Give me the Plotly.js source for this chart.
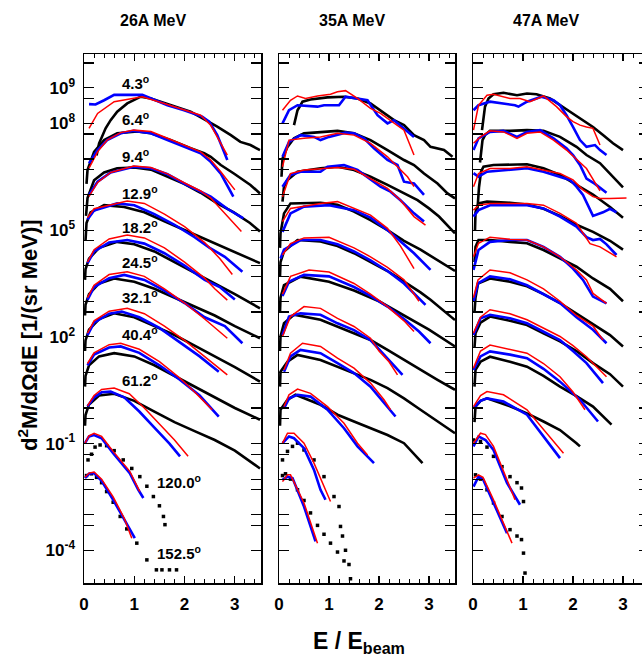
<!DOCTYPE html>
<html><head><meta charset="utf-8">
<script src="https://cdn.plot.ly/plotly-3.0.1.min.js"></script>
<style>html,body{margin:0;padding:0;overflow:hidden;background:#fff}</style>
</head><body><div id="chart"></div>
<script>
// ---------- data (log10 of d2M/dOmega dE) ----------
const panelTitles = ['26A MeV', '35A MeV', '47A MeV'];
const angleLabels = ['4.3', '6.4', '9.4', '12.9', '18.2', '24.5', '32.1', '40.4', '61.2', '120.0', '152.5'];
const xTickVals = [0, 1, 2, 3];
const yTickExp = [9, 8, 5, 2, -1, -4];

// 26A MeV
const x26Black = [
 [0.25,0.30,0.36,0.43,0.53,0.66,0.86,1.13,1.33,1.72,2.12,2.42,2.65,2.92,3.11,3.31,3.5],
 [0.05,0.07,0.20,0.40,0.66,1.06,1.33,1.72,2.12,2.39,2.52,2.72,2.98,3.31,3.5],
 [0.04,0.07,0.2,0.4,0.66,1.0,1.33,1.66,1.99,2.32,2.65,2.98,3.3,3.5],
 [0.03,0.05,0.13,0.4,0.8,1.2,1.6,2.0,2.4,2.8,3.2,3.5],
 [0.02,0.03,0.1,0.3,0.66,1.0,1.4,1.8,2.2,2.6,3.0,3.5],
 [0.02,0.03,0.1,0.3,0.6,1.0,1.4,1.8,2.2,2.6,3.0,3.5],
 [0.02,0.03,0.1,0.3,0.6,1.0,1.4,1.8,2.2,2.6,3.0,3.5],
 [0.02,0.03,0.1,0.3,0.6,1.0,1.4,1.8,2.2,2.6,3.0,3.5],
 [0.02,0.03,0.1,0.3,0.6,1.0,1.4,1.8,2.2,2.6,3.0,3.5],
 [0.08,0.15,0.22,0.32,0.45,0.6,0.78,0.95,1.11,1.25,1.38,1.5,1.58,1.61],
 [0.05,0.15,0.25,0.35,0.45,0.58,0.72,0.85,1.05,1.25,1.44,1.55,1.7,1.84]];
const y26Black = [
 [7.1,7.44,7.63,7.86,8.09,8.33,8.56,8.75,8.70,8.51,8.33,8.09,7.91,7.67,7.48,7.39,7.25],
 [6.3,6.69,7.2,7.53,7.72,7.77,7.72,7.53,7.30,7.16,7.06,6.83,6.59,6.27,6.03],
 [5.4,5.9,6.4,6.62,6.74,6.76,6.7,6.5,6.3,6.05,5.75,5.5,5.2,4.96],
 [4.7,5.2,5.5,5.70,5.65,5.5,5.25,5.0,4.75,4.5,4.25,4.07],
 [3.6,3.9,4.2,4.5,4.67,4.6,4.4,4.1,3.8,3.5,3.2,2.8],
 [2.6,2.9,3.2,3.5,3.64,3.55,3.35,3.1,2.85,2.6,2.3,1.96],
 [1.6,1.9,2.2,2.5,2.66,2.55,2.3,2.05,1.75,1.45,1.15,0.74],
 [0.6,0.9,1.2,1.45,1.54,1.45,1.2,0.9,0.6,0.3,0.0,-0.33],
 [-0.5,-0.2,0.1,0.35,0.40,0.2,-0.1,-0.4,-0.65,-0.9,-1.2,-1.7],
 [-1.46,-1.3,-1.1,-1.04,-1.06,-1.2,-1.46,-1.7,-1.93,-2.2,-2.49,-2.75,-3.05,-3.28],
 [-1.9,-1.85,-1.95,-2.1,-2.35,-2.65,-3.05,-3.4,-3.8,-4.27,-4.55,-4.55,-4.55,-4.55]];
const x26Blue = [
 [0.10,0.23,0.40,0.60,1.16,1.33,1.66,1.99,2.35,2.49,2.65,2.85],
 [0.10,0.27,0.46,0.73,0.99,1.33,1.66,1.99,2.32,2.52,2.72,2.97],
 [0.10,0.27,0.53,0.99,1.33,1.66,1.99,2.32,2.52,2.85,3.17],
 [0.07,0.2,0.66,1.0,1.4,1.8,2.2,2.5,2.8,3.15],
 [0.07,0.2,0.5,0.86,1.2,1.6,2.0,2.4,2.7,3.0],
 [0.07,0.2,0.5,0.8,1.2,1.6,2.0,2.4,2.8,3.15],
 [0.07,0.2,0.5,0.75,1.1,1.5,1.9,2.3,2.68],
 [0.07,0.2,0.5,0.73,1.1,1.5,1.9,2.3,2.68],
 [0.07,0.2,0.35,0.53,0.8,1.1,1.4,1.7,1.91],
 [0.02,0.1,0.2,0.35,0.58,0.91,1.08,1.18],
 [0.02,0.1,0.2,0.35,0.58,0.85,1.01]];
const y26Blue = [
 [8.54,8.53,8.65,8.80,8.80,8.70,8.51,8.37,8.19,8.05,7.67,6.97],
 [6.88,7.25,7.53,7.72,7.79,7.72,7.53,7.34,7.16,6.92,6.59,5.94],
 [5.99,6.36,6.62,6.78,6.74,6.57,6.31,6.08,5.94,5.6,5.33],
 [5.3,5.55,5.75,5.7,5.45,5.15,4.8,4.5,4.25,3.83],
 [4.07,4.4,4.65,4.72,4.62,4.35,4.0,3.6,3.4,3.05],
 [3.04,3.4,3.65,3.74,3.6,3.3,2.95,2.55,2.3,1.82],
 [2.05,2.4,2.65,2.71,2.55,2.25,1.85,1.45,1.02],
 [1.2,1.5,1.7,1.73,1.55,1.2,0.8,0.35,-0.24],
 [0.04,0.3,0.44,0.46,0.3,-0.1,-0.55,-1.0,-1.36],
 [-0.99,-0.8,-0.76,-0.85,-1.27,-1.83,-2.3,-2.53],
 [-1.97,-1.85,-1.83,-2.05,-2.58,-3.24,-3.66]];
const x26Red = [
 [0.10,0.27,0.60,0.99,1.16,1.66,2.32,2.52,2.85],
 [0.10,0.27,0.46,0.73,0.99,1.33,1.66,1.99,2.32,2.52,2.72,3.0],
 [0.10,0.27,0.53,0.99,1.33,1.66,1.99,2.32,2.52,2.85,3.13],
 [0.07,0.2,0.86,1.2,1.6,2.0,2.4,2.7,2.95],
 [0.07,0.2,0.5,0.86,1.2,1.6,2.0,2.4,2.6,2.85],
 [0.07,0.2,0.5,0.86,1.2,1.6,2.0,2.4,2.85],
 [0.07,0.2,0.5,0.86,1.2,1.6,2.0,2.4,2.85],
 [0.07,0.2,0.5,0.73,1.1,1.5,1.9,2.2,2.55],
 [0.07,0.2,0.35,0.6,0.9,1.2,1.5,1.8,2.07],
 [0.02,0.1,0.2,0.35,0.58,0.91,1.11],
 [0.02,0.1,0.2,0.35,0.58,0.8,0.95]];
const y26Red = [
 [7.86,8.28,8.61,8.72,8.75,8.53,8.23,7.95,7.11],
 [6.74,7.2,7.53,7.74,7.81,7.77,7.58,7.39,7.2,6.97,6.64,6.13],
 [5.95,6.34,6.62,6.80,6.76,6.58,6.33,6.1,5.9,5.4,4.96],
 [5.35,5.6,5.82,5.75,5.45,5.1,4.65,4.2,3.75],
 [4.1,4.45,4.75,4.86,4.78,4.5,4.1,3.65,3.35,3.03],
 [3.1,3.45,3.75,3.83,3.7,3.35,2.95,2.5,1.96],
 [2.1,2.45,2.72,2.8,2.65,2.3,1.9,1.45,0.93],
 [1.25,1.55,1.78,1.82,1.65,1.3,0.85,0.45,-0.05],
 [0.06,0.35,0.52,0.56,0.4,0.0,-0.45,-0.9,-1.36],
 [-0.99,-0.78,-0.71,-0.8,-1.22,-1.78,-2.35],
 [-1.95,-1.83,-1.8,-2.0,-2.5,-3.1,-3.66]];

// 35A MeV
const x35Black = [
 [0.30,0.37,0.43,0.47,0.63,0.97,1.3,1.57,1.83,2.03,2.3,2.5,2.7,2.9,3.03,3.3,3.47],
 [0.05,0.07,0.17,0.3,0.5,0.83,1.17,1.5,1.83,2.17,2.5,2.7,2.9,3.17,3.37,3.52],
 [0.07,0.1,0.17,0.37,0.83,1.17,1.5,1.83,2.17,2.5,2.77,3.0,3.2,3.52],
 [0.02,0.03,0.1,0.23,0.83,1.17,1.5,1.83,2.17,2.5,2.83,3.17,3.52],
 [0.02,0.03,0.1,0.37,0.83,1.17,1.5,1.83,2.17,2.5,2.83,3.03,3.52],
 [0.02,0.03,0.1,0.43,1.0,1.5,2.0,2.5,3.0,3.52],
 [0.02,0.03,0.1,0.3,0.83,1.17,1.5,1.83,2.17,2.5,2.83,3.17,3.52],
 [0.02,0.03,0.17,0.37,0.83,1.17,1.5,1.83,2.17,2.5,2.83,3.17,3.52],
 [0.02,0.03,0.17,0.33,0.83,1.17,1.5,1.83,2.17,2.5,2.87],
 [0.07,0.17,0.27,0.37,0.5,0.7,0.9,1.1,1.2,1.23,1.27,1.33,1.4],
 [0.07,0.13,0.23,0.37,0.5,0.63,0.77,0.9,1.03,1.17,1.3,1.43]];
const y35Black = [
 [7.95,8.37,8.51,8.61,8.67,8.73,8.75,8.70,8.56,8.37,8.09,7.95,7.67,7.53,7.34,7.25,7.06],
 [6.5,7.01,7.34,7.58,7.72,7.76,7.79,7.72,7.53,7.25,6.97,6.83,6.59,6.31,6.03,5.89],
 [5.8,6.22,6.41,6.64,6.74,6.78,6.69,6.5,6.27,6.03,5.84,5.61,5.38,4.91],
 [4.5,4.91,5.47,5.75,5.77,5.71,5.52,5.28,5.0,4.7,4.45,4.15,3.85],
 [3.7,4.1,4.4,4.72,4.68,4.55,4.35,4.1,3.85,3.55,3.25,3.04,2.47],
 [2.7,3.1,3.45,3.69,3.55,3.3,3.0,2.6,2.2,1.73],
 [1.6,2.01,2.38,2.62,2.48,2.29,2.10,1.91,1.63,1.35,1.07,0.79,0.51],
 [0.6,1.02,1.3,1.49,1.35,1.16,0.98,0.79,0.56,0.27,-0.05,-0.38,-0.71],
 [-0.5,-0.05,0.23,0.37,0.09,-0.19,-0.38,-0.57,-0.76,-0.99,-1.55],
 [-1.46,-1.22,-1.08,-0.99,-1.18,-1.46,-1.93,-2.49,-2.77,-3.33,-3.6,-4.0,-4.4],
 [-1.9,-1.85,-2.0,-2.3,-2.6,-2.95,-3.3,-3.55,-3.8,-4.05,-4.3,-4.8]];
const x35Blue = [
 [0.07,0.2,0.37,0.77,0.9,1.2,1.33,1.6,1.77,1.97,2.17,2.3,2.5,2.7],
 [0.07,0.2,0.43,0.7,0.83,1.0,1.33,1.5,1.7,1.9,2.17,2.37,2.5,2.7,2.9],
 [0.07,0.23,0.43,0.83,0.97,1.3,1.57,1.83,2.03,2.23,2.43,2.7,2.9],
 [0.07,0.23,0.5,1.0,1.5,1.83,2.17,2.5,2.7,3.03],
 [0.03,0.1,0.43,0.83,1.17,1.5,1.83,2.17,2.5,2.93],
 [0.07,0.2,0.5,1.0,1.5,1.83,2.17,2.5,2.8,3.03],
 [0.07,0.2,0.43,0.83,1.17,1.5,1.83,2.17,2.47],
 [0.1,0.23,0.43,0.83,1.17,1.5,1.83,2.1,2.33],
 [0.1,0.2,0.37,0.63,0.97,1.3,1.57,1.9],
 [0.07,0.2,0.3,0.5,0.7,0.83,0.93],
 [0.07,0.17,0.27,0.5,0.73]];
const y35Blue = [
 [8.0,8.37,8.51,8.47,8.51,8.51,8.75,8.70,8.65,8.23,8.0,8.09,7.86,7.62],
 [7.06,7.48,7.67,7.62,7.53,7.62,7.74,7.72,7.58,7.30,6.97,6.83,6.36,6.31,5.99],
 [6.22,6.55,6.64,6.64,6.78,6.83,6.69,6.41,6.22,6.08,5.84,5.47,5.24],
 [4.95,5.47,5.66,5.70,5.56,5.35,5.0,4.6,4.35,3.88],
 [4.2,4.45,4.72,4.72,4.6,4.4,4.15,3.85,3.5,2.9],
 [3.15,3.55,3.74,3.7,3.4,3.15,2.85,2.5,2.15,1.82],
 [2.05,2.57,2.66,2.62,2.38,2.19,1.91,1.4,0.93],
 [1.02,1.45,1.63,1.54,1.26,0.98,0.6,0.13,-0.24],
 [-0.01,0.27,0.37,0.32,-0.05,-0.57,-1.08,-1.55],
 [-0.99,-0.8,-0.85,-1.13,-1.74,-2.3,-2.58],
 [-2.02,-1.93,-1.97,-2.77,-3.75]];
const x35Red = [
 [0.07,0.23,0.37,0.53,0.77,1.03,1.17,1.33,1.57,1.83,2.03,2.23,2.5,2.7],
 [0.07,0.2,0.5,0.83,1.17,1.5,1.83,2.17,2.37,2.57,2.7],
 [0.07,0.23,0.5,0.83,1.17,1.5,1.83,2.17,2.43,2.7,2.93],
 [0.07,0.23,0.83,1.17,1.83,2.17,2.43,2.7],
 [0.07,0.23,0.5,1.0,1.5,1.83,2.17,2.5,2.8],
 [0.07,0.23,0.6,1.0,1.5,1.83,2.17,2.5,2.7],
 [0.07,0.23,0.5,0.83,1.17,1.5,1.83,2.0,2.2,2.37],
 [0.1,0.23,0.47,0.83,1.17,1.5,1.83,2.1,2.23],
 [0.1,0.2,0.37,0.63,0.97,1.3,1.57,1.77],
 [0.07,0.17,0.3,0.5,0.7,0.9,1.03],
 [0.07,0.17,0.23,0.5,0.77]];
const y35Red = [
 [8.37,8.65,8.77,8.70,8.77,8.82,8.89,8.92,8.70,8.42,8.28,8.09,7.81,7.11],
 [6.78,7.53,7.58,7.62,7.72,7.67,7.44,7.06,6.78,6.5,6.22],
 [5.94,6.59,6.69,6.73,6.76,6.71,6.45,6.17,5.84,5.38,5.14],
 [5.24,5.61,5.75,5.80,5.42,5.05,4.55,3.92],
 [4.3,4.62,4.78,4.80,4.5,4.25,3.95,3.6,3.0],
 [3.2,3.7,3.88,3.82,3.5,3.2,2.85,2.45,2.15],
 [2.01,2.57,2.85,2.8,2.52,2.29,1.96,1.6,1.3,0.93],
 [1.07,1.54,1.82,1.73,1.4,1.12,0.7,0.23,-0.05],
 [0.04,0.37,0.53,0.41,0.04,-0.43,-0.99,-1.32],
 [-0.99,-0.71,-0.71,-0.99,-1.55,-2.21,-2.63],
 [-2.07,-1.88,-1.88,-2.67,-3.8]];

// 47A MeV
const x47Black = [
 [0.18,0.21,0.24,0.31,0.41,0.61,0.88,1.08,1.27,1.54,1.74,1.94,2.14,2.40,2.60,2.80,3.0],
 [0.14,0.16,0.19,0.24,0.34,0.74,1.08,1.41,1.74,2.07,2.27,2.54,2.8,3.0],
 [0.09,0.12,0.16,0.21,0.41,0.74,1.08,1.41,1.74,2.07,2.4,2.74,3.0],
 [0.04,0.05,0.11,0.28,0.74,1.08,1.41,1.74,2.07,2.4,2.74,3.0],
 [0.03,0.05,0.11,0.34,0.74,1.08,1.41,1.74,2.07,2.4,2.74,3.0],
 [0.03,0.05,0.1,0.34,0.74,1.08,1.41,1.74,2.07,2.4,2.74,3.0],
 [0.03,0.05,0.15,0.34,0.74,1.08,1.41,1.74,2.07,2.4,2.74,3.0],
 [0.03,0.05,0.15,0.34,0.74,1.08,1.41,1.74,2.07,2.4,2.77],
 [0.03,0.05,0.15,0.28,0.74,1.08,1.41,1.74,2.07,2.14],
 [0.01,0.15,0.28,0.41,0.58,0.74,0.88,0.97,1.01],
 [0.05,0.15,0.28,0.41,0.58,0.74,0.88,0.97,1.01,1.04]];
const y47Black = [
 [7.81,8.19,8.47,8.70,8.82,8.86,8.79,8.84,8.82,8.70,8.51,8.33,8.14,7.90,7.67,7.44,7.25],
 [6.9,7.25,7.53,7.67,7.79,7.79,7.81,7.79,7.62,7.34,7.11,6.88,6.5,6.2],
 [5.6,6.2,6.64,6.78,6.83,6.85,6.85,6.74,6.55,6.27,6.0,5.65,5.35],
 [5.0,5.5,5.75,5.8,5.77,5.72,5.6,5.4,5.15,4.95,4.7,4.45],
 [4.1,4.53,4.72,4.72,4.67,4.63,4.44,4.21,3.97,3.64,3.35,3.0],
 [2.7,3.1,3.5,3.64,3.55,3.42,3.2,2.95,2.65,2.35,2.05,1.73],
 [1.7,2.1,2.4,2.57,2.45,2.33,2.1,1.87,1.6,1.26,0.95,0.6],
 [0.6,1.07,1.3,1.44,1.3,1.16,0.9,0.6,0.33,0.04,-0.47],
 [-0.4,0.04,0.2,0.27,0.05,-0.15,-0.38,-0.62,-0.99,-1.08],
 [-0.9,-0.94,-1.1,-1.36,-1.65,-1.93,-2.1,-2.25,-2.63],
 [-1.88,-2.0,-2.3,-2.67,-3.05,-3.42,-3.6,-3.7,-4.08,-4.64]];
const x47Blue = [
 [0.01,0.11,0.34,0.61,0.84,0.91,1.08,1.37,1.61,1.74,1.87,2.0,2.14,2.27,2.44,2.54,2.67],
 [0.01,0.11,0.34,0.61,0.88,1.08,1.34,1.61,1.87,2.0,2.14,2.27,2.44,2.67],
 [0.01,0.11,0.28,0.74,1.08,1.41,1.74,1.94,2.07,2.2,2.4,2.6,2.74,2.87],
 [0.01,0.11,0.34,0.74,1.08,1.41,1.74,2.07,2.27,2.4,2.54,2.67,2.87],
 [0.01,0.11,0.34,0.74,1.08,1.41,1.74,2.0,2.2,2.4,2.67],
 [0.01,0.1,0.34,0.74,1.08,1.41,1.74,2.07,2.4,2.67],
 [0.01,0.15,0.34,0.74,1.08,1.41,1.74,2.0,2.27,2.6],
 [0.01,0.15,0.34,0.74,1.08,1.41,1.74,2.14,2.5],
 [0.01,0.15,0.28,0.61,1.08,1.47,1.74],
 [0.01,0.11,0.25,0.41,0.68,0.94],
 [0.01,0.11,0.2,0.41,0.68]];
const y47Blue = [
 [8.37,8.51,8.61,8.56,8.51,8.47,8.61,8.75,8.65,8.51,8.23,7.90,7.53,7.34,7.39,7.25,7.11],
 [7.25,7.58,7.76,7.79,7.62,7.76,7.81,7.58,7.30,7.11,6.83,6.45,6.3,6.05],
 [6.6,6.5,6.64,6.69,6.74,6.64,6.5,6.41,6.22,5.99,5.4,5.5,5.6,5.5],
 [5.38,5.56,5.70,5.70,5.70,5.61,5.38,5.1,4.8,4.72,4.75,4.6,4.3],
 [3.88,4.44,4.67,4.72,4.72,4.53,4.25,3.92,3.6,3.13,2.94],
 [3.0,3.5,3.7,3.62,3.45,3.2,2.95,2.55,2.2,1.82],
 [2.05,2.52,2.62,2.52,2.38,2.15,1.91,1.6,1.26,0.7],
 [1.07,1.45,1.59,1.5,1.4,1.1,0.74,0.23,-0.38],
 [-0.01,0.2,0.27,0.18,-0.19,-0.9,-1.41],
 [-1.08,-0.8,-0.9,-1.18,-2.11,-2.72],
 [-2.21,-1.93,-2.0,-2.67,-3.52]];
const x47Red = [
 [0.01,0.11,0.28,0.41,0.74,0.94,1.14,1.41,1.67,1.87,2.0,2.14,2.27,2.4,2.54],
 [0.01,0.15,0.34,0.61,0.88,1.08,1.34,1.61,1.87,2.07,2.27,2.54],
 [0.01,0.11,0.34,0.74,1.08,1.41,1.74,2.0,2.2,2.4,2.54,2.74,3.07],
 [0.01,0.11,0.34,1.08,1.41,1.74,2.07,2.2,2.34,2.54,2.87],
 [0.01,0.11,0.34,0.74,1.08,1.41,1.74,2.07,2.27,2.4,2.67],
 [0.01,0.1,0.34,0.74,1.08,1.41,1.74,2.07,2.4,2.6],
 [0.01,0.15,0.34,0.74,1.08,1.41,1.74,2.0,2.27,2.67],
 [0.01,0.15,0.34,0.74,1.08,1.41,1.74,2.0,2.24],
 [0.01,0.15,0.28,0.61,1.08,1.47,1.81],
 [0.01,0.15,0.25,0.41,0.68,0.84],
 [0.01,0.11,0.2,0.41,0.78]];
const y47Red = [
 [7.81,8.51,8.79,8.82,8.70,8.70,8.61,8.77,8.47,8.19,8.05,7.95,7.9,7.86,7.39],
 [7.44,7.62,7.79,7.76,7.58,7.72,7.76,7.53,7.25,7.0,6.73,6.1],
 [6.22,6.59,6.73,6.73,6.78,6.69,6.59,6.41,6.13,5.94,5.89,5.89,5.9],
 [5.56,5.70,5.75,5.75,5.70,5.47,5.19,4.9,4.62,4.53,4.25],
 [4.25,4.63,4.80,4.74,4.72,4.53,4.25,3.88,3.6,3.22,2.94],
 [3.1,3.6,3.88,3.8,3.6,3.35,3.0,2.6,2.3,1.91],
 [2.1,2.55,2.76,2.65,2.48,2.25,2.01,1.75,1.44,0.88],
 [1.12,1.6,1.77,1.65,1.54,1.25,0.88,0.45,-0.05],
 [0.04,0.35,0.46,0.37,-0.05,-0.71,-1.27],
 [-0.99,-0.71,-0.75,-1.08,-2.02,-2.58],
 [-1.97,-1.88,-1.95,-2.58,-3.8]];

// ---------- build ----------
const W = 660, H = 669;
const panels = [
  {ax: '', bx: x26Black, by: y26Black, ux: x26Blue, uy: y26Blue, rx: x26Red, ry: y26Red},
  {ax: '2', bx: x35Black, by: y35Black, ux: x35Blue, uy: y35Blue, rx: x35Red, ry: y35Red},
  {ax: '3', bx: x47Black, by: y47Black, ux: x47Blue, uy: y47Blue, rx: x47Red, ry: y47Red}
];
const pow10 = a => a.map(v => Math.pow(10, v));
const traces = [];
panels.forEach(p => {
  const xa = 'x' + p.ax, ya = 'y' + p.ax;
  angleLabels.forEach((a, i) => {
    const sparse = i >= 9;
    traces.push({x: p.bx[i], y: pow10(p.by[i]), xaxis: xa, yaxis: ya, type: 'scatter',
      mode: sparse ? 'markers' : 'lines',
      line: {color: 'black', width: 2.6},
      marker: {color: 'black', size: 3.5, symbol: 'square'},
      hoverinfo: 'skip', showlegend: false});
  });
  angleLabels.forEach((a, i) => {
    traces.push({x: p.ux[i], y: pow10(p.uy[i]), xaxis: xa, yaxis: ya, type: 'scatter', mode: 'lines',
      line: {color: '#0000ff', width: 2.6}, hoverinfo: 'skip', showlegend: false});
  });
  angleLabels.forEach((a, i) => {
    traces.push({x: p.rx[i], y: pow10(p.ry[i]), xaxis: xa, yaxis: ya, type: 'scatter', mode: 'lines',
      line: {color: '#ff0000', width: 1.5}, hoverinfo: 'skip', showlegend: false});
  });
});

const FONT = 'Liberation Sans, Arial, Helvetica, sans-serif';
const tickVals = [], tickText = [];
for (let n = -4; n <= 9; n++) {
  tickVals.push(Math.pow(10, n));
  tickText.push(yTickExp.includes(n) ? '10<sup>' + n + '</sup>' : ' ');
  tickVals.push(5 * Math.pow(10, n));
  tickText.push(' ');
}
const xDomains = [[84 / W, 261 / W], [279 / W, 455 / W], [473 / W, 649 / W]];
const yDomain = [(H - 583) / H, (H - 54) / H];

const layout = {
  width: W, height: H, margin: {l: 0, r: 0, t: 0, b: 0},
  paper_bgcolor: 'white', plot_bgcolor: 'white', showlegend: false,
  font: {family: FONT, color: 'black'},
  annotations: []
};
panels.forEach((p, k) => {
  layout['xaxis' + p.ax] = {
    domain: xDomains[k], range: [0, 3.52], anchor: 'y' + p.ax,
    showline: true, linecolor: 'black', linewidth: 1.5, mirror: 'ticks',
    ticks: 'inside', ticklen: 7, tickwidth: 1.2, tickcolor: 'black',
    tickvals: xTickVals, ticktext: xTickVals.map(String), ticklabelstandoff: 5,
    tickfont: {family: FONT, size: 17, weight: 'bold', color: 'black'},
    minor: {dtick: 0.2, tick0: 0, ticklen: 4, ticks: 'inside', tickcolor: 'black', tickwidth: 1, showgrid: false},
    showgrid: false, zeroline: false, fixedrange: true
  };
  layout['yaxis' + p.ax] = {
    type: 'log', domain: yDomain, range: [-4.92, 9.95], anchor: 'x' + p.ax,
    showline: true, linecolor: 'black', linewidth: 1.5, mirror: 'ticks',
    ticks: 'inside', ticklen: 10, tickwidth: 1.2, tickcolor: 'black',
    tickvals: tickVals, ticktext: tickText, showticklabels: k === 0, ticklabelstandoff: 4,
    tickfont: {family: FONT, size: 17, weight: 'bold', color: 'black'},
    showgrid: false, zeroline: false, fixedrange: true
  };
  layout.annotations.push({text: panelTitles[k], xref: 'paper', yref: 'paper',
    x: [153, 352, 546][k] / W, y: 1 - 20 / H, xanchor: 'center', yanchor: 'middle', showarrow: false,
    font: {family: FONT, size: 16, weight: 'bold', color: 'black'}});
});
// angle labels (26A panel)
const labelLogY = [9.14, 8.14, 7.11, 6.06, 5.10, 4.11, 3.13, 2.10, 0.79, -2.07, -4.07];
angleLabels.forEach((a, i) => {
  layout.annotations.push({text: a + '<sup>o</sup>', xref: 'x', yref: 'y',
    x: i >= 9 ? 1.42 : 0.71, y: labelLogY[i], xanchor: 'left', yanchor: 'middle', showarrow: false,
    font: {family: FONT, size: 15, weight: 'bold', color: 'black'}});
});
layout.annotations.push({text: 'd<sup>2</sup>M/dΩdE [1/(sr MeV)]', xref: 'paper', yref: 'paper',
  x: 28 / W, y: 1 - 335 / H, textangle: -90, xanchor: 'center', yanchor: 'middle', showarrow: false,
  font: {family: FONT, size: 22, weight: 'bold', color: 'black'}});
layout.annotations.push({text: 'E / E<sub>beam</sub>', xref: 'paper', yref: 'paper',
  x: 359 / W, y: 1 - 642 / H, xanchor: 'center', yanchor: 'middle', showarrow: false,
  font: {family: FONT, size: 23, weight: 'bold', color: 'black'}});

Plotly.newPlot('chart', traces, layout, {staticPlot: true, displayModeBar: false});
</script></body></html>
